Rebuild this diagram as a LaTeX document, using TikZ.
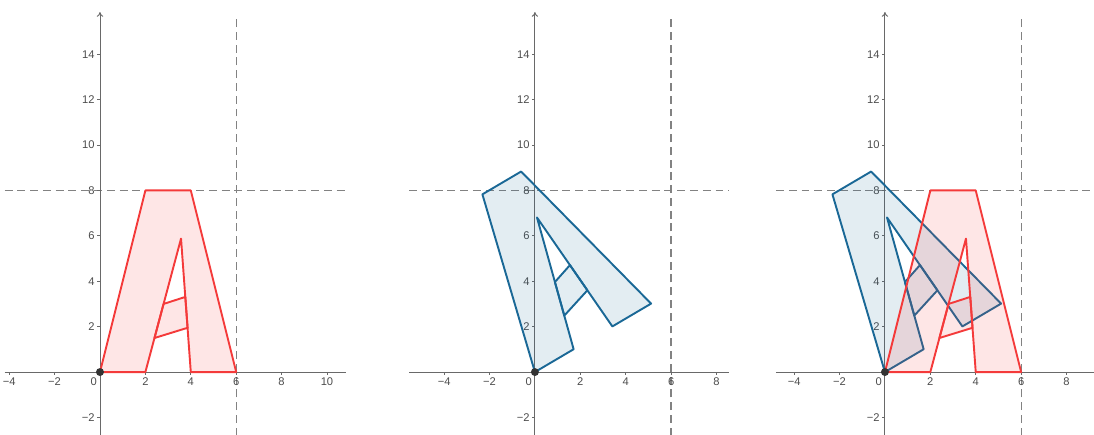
\documentclass[tikz,border=0pt]{standalone}
\usepackage{fontspec}
\setmainfont{Liberation Sans}
\usetikzlibrary{arrows.meta}
\definecolor{Rd}{RGB}{244,58,58}
\definecolor{Bl}{RGB}{26,104,150}
\definecolor{Ax}{RGB}{105,105,105}
\definecolor{Dsh}{RGB}{130,130,130}
% the letter, outline and crossbar
\newcommand\letterA[1]{%
 \draw[#1] (0,0)--(2,8)--(4,8)--(6,0)--(4,0)--(3.57,5.88)--(2,0)--cycle;
 \draw[#1] (2.4,1.5)--(3.86,1.95)--(3.76,3.31)--(2.8,3.0)--cycle;}

\begin{document}
\begin{tikzpicture}[x=.5cm,y=.5cm,
 ax/.style={Ax,line width=.6pt},
 dsh/.style={Dsh,line width=.8pt,dash pattern=on 5pt off 3pt},
 lb/.style={font=\fontsize{7}{8}\selectfont,text=black!70,inner sep=1pt},
 ra/.style={draw=Rd,fill=Rd,fill opacity=.13,line width=1.2pt,line join=round},
 ba/.style={draw=Bl,fill=Bl,fill opacity=.12,line width=1.2pt,line join=round},
 dot/.style={circle,fill=black!80,inner sep=0pt,minimum size=5pt}]
\useasboundingbox (-4.405,-2.731) rectangle (43.79,16.39);
% axes and guides of the three panels
\foreach \s/\l/\r/\m/\p in {0/-4.2/10.85/10/a,19.16/-5.54/8.57/8/b,34.58/-4.8/9.3/8/c}{
 \begin{scope}[shift={(\s,0)}]
 \draw[dsh] (6,-2.8)--(6,15.7);
 \draw[dsh] (\l,8)--(\r,8);
 \draw[ax] (\l,0)--(\r,0);
 \draw[ax,-{To[length=3pt,width=4pt]}] (0,-2.8)--(0,15.86);
 \foreach \x in {-4,-2,...,\m}{\ifnum\x=0\else
  \draw[ax] (\x,0)--(\x,-.15);
  \node[lb,below] (x\p\x) at (\x,-.15) {\ifnum\x<0 −\the\numexpr-\x\relax\else\x\fi};\fi}
 \foreach \y in {-2,2,4,...,14}{
  \draw[ax] (0,\y)--(-.15,\y);
  \node[lb,left] (y\p\y) at (-.15,\y) {\ifnum\y<0 −\the\numexpr-\y\relax\else\y\fi};}
 \node[lb,below left] (z\p) at (-.05,-.15) {0};
 \end{scope}}
% panel 1
\letterA{ra}
% panel 2
\begin{scope}[shift={(19.16,0)},rotate=30.5,scale=.99]
\letterA{ba}
\end{scope}
% panel 3
\begin{scope}[shift={(34.58,0)},rotate=30.5,scale=.99]
\letterA{ba}
\end{scope}
\begin{scope}[shift={(34.58,0)}]
\letterA{ra}
\end{scope}
\node[dot] (o1) at (0,0) {};
\node[dot] (o2) at (19.16,0) {};
\node[dot] (o3) at (34.58,0) {};
\end{tikzpicture}
\end{document}
